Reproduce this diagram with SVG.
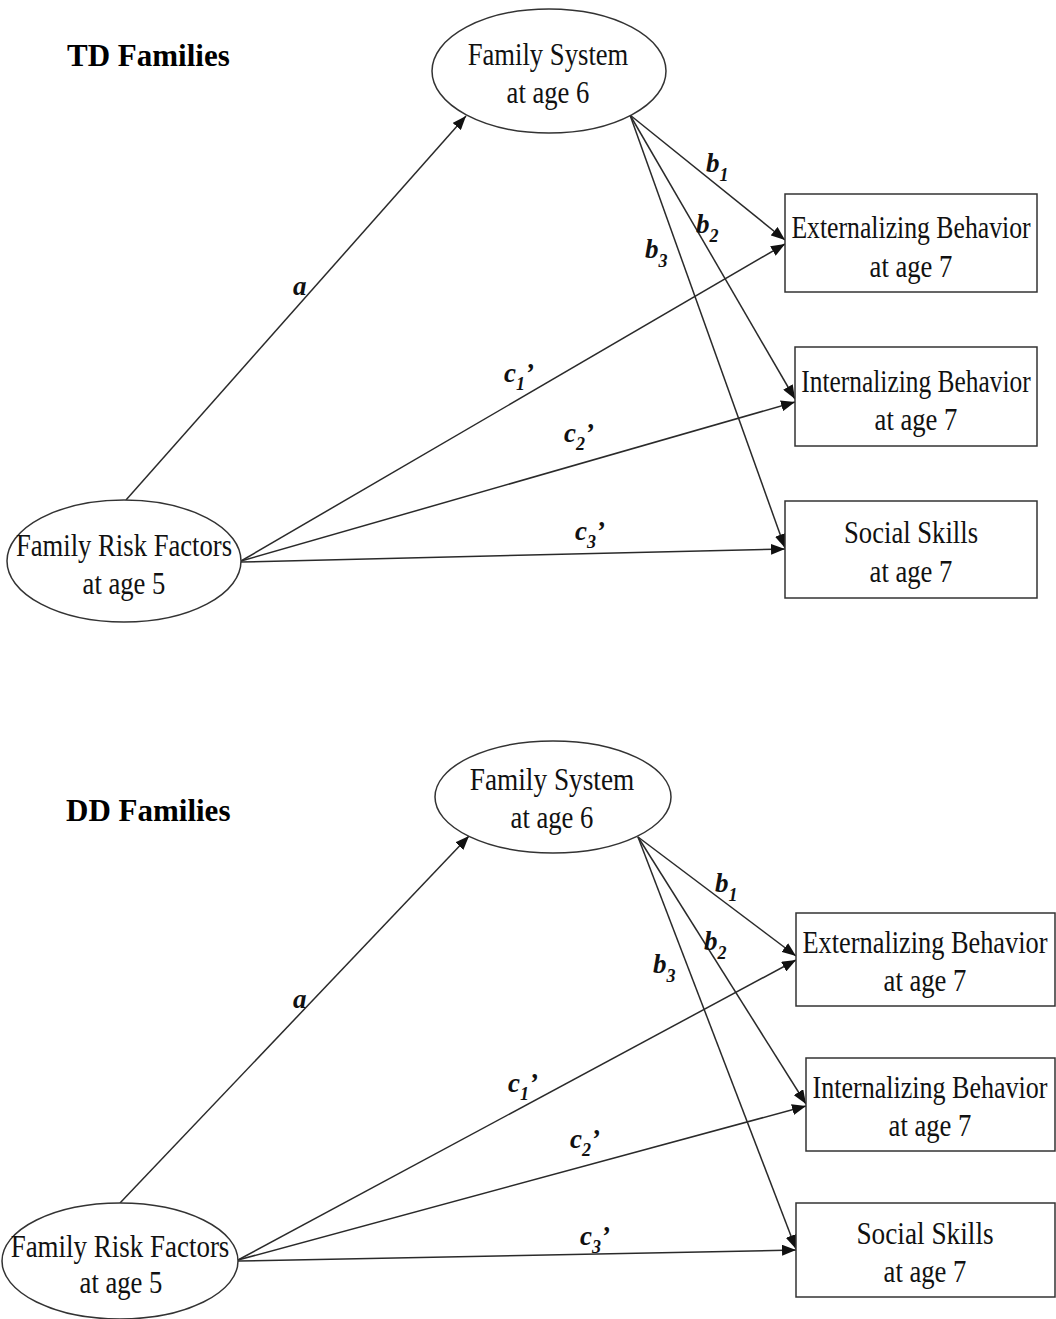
<svg xmlns="http://www.w3.org/2000/svg" width="1056" height="1319" viewBox="0 0 1056 1319">
<style>
  .node { fill: #ffffff; stroke: #333333; stroke-width: 1.5; }
  .nt { font-family: "Liberation Serif", "Times New Roman", serif; font-size: 31px; fill: #111111; text-anchor: middle; }
  .head { font-family: "Liberation Serif", "Times New Roman", serif; font-size: 31px; font-weight: bold; fill: #000000; }
  .lab { font-family: "Liberation Serif", "Times New Roman", serif; font-size: 27px; font-weight: bold; font-style: italic; fill: #111111; }
  .sub { font-size: 18px; }
  .edge { stroke: #2a2a2a; stroke-width: 1.5; fill: none; marker-end: url(#arr); }
</style>
<defs>
  <marker id="arr" markerUnits="userSpaceOnUse" markerWidth="15" markerHeight="11" refX="14" refY="5.5" orient="auto">
    <path d="M0,0 L14,5.5 L0,11 z" fill="#111111"/>
  </marker>
</defs>
<rect x="0" y="0" width="1056" height="1319" fill="#ffffff"/>

<!-- ===== TD Families ===== -->
<text class="head" x="67" y="66">TD Families</text>

<g id="connectors-td">
  <line class="edge" x1="126" y1="500" x2="466" y2="116"/>
  <line class="edge" x1="630" y1="115" x2="785" y2="240"/>
  <line class="edge" x1="630" y1="115" x2="795" y2="399"/>
  <line class="edge" x1="630" y1="115" x2="785" y2="548"/>
  <line class="edge" x1="241" y1="561" x2="785" y2="244"/>
  <line class="edge" x1="241" y1="561" x2="795" y2="402"/>
  <line class="edge" x1="241" y1="562" x2="785" y2="549"/>
  <text class="lab" x="293" y="295">a</text>
  <text class="lab" x="706" y="172">b<tspan class="sub" dy="9">1</tspan></text>
  <text class="lab" x="696" y="233">b<tspan class="sub" dy="9">2</tspan></text>
  <text class="lab" x="645" y="258">b<tspan class="sub" dy="9">3</tspan></text>
  <text class="lab" x="504" y="382">c<tspan class="sub" dy="8">1</tspan><tspan dy="-8">’</tspan></text>
  <text class="lab" x="564" y="442">c<tspan class="sub" dy="8">2</tspan><tspan dy="-8">’</tspan></text>
  <text class="lab" x="575" y="540">c<tspan class="sub" dy="8">3</tspan><tspan dy="-8">’</tspan></text>
</g>

<g id="td-family-system">
  <ellipse class="node" cx="549" cy="71" rx="117" ry="62"/>
  <text class="nt" transform="translate(548,65) scale(0.86,1)">Family System</text>
  <text class="nt" transform="translate(548,103) scale(0.86,1)">at age 6</text>
</g>
<g id="td-family-risk">
  <ellipse class="node" cx="124" cy="561" rx="117" ry="61"/>
  <text class="nt" transform="translate(124,556) scale(0.86,1)">Family Risk Factors</text>
  <text class="nt" transform="translate(124,594) scale(0.86,1)">at age 5</text>
</g>
<g id="td-externalizing">
  <rect class="node" x="785" y="194" width="252" height="98"/>
  <text class="nt" transform="translate(911,238) scale(0.83,1)">Externalizing Behavior</text>
  <text class="nt" transform="translate(911,277) scale(0.86,1)">at age 7</text>
</g>
<g id="td-internalizing">
  <rect class="node" x="795" y="347" width="242" height="99"/>
  <text class="nt" transform="translate(916,392) scale(0.82,1)">Internalizing Behavior</text>
  <text class="nt" transform="translate(916,430) scale(0.86,1)">at age 7</text>
</g>
<g id="td-social">
  <rect class="node" x="785" y="501" width="252" height="97"/>
  <text class="nt" transform="translate(911,543) scale(0.86,1)">Social Skills</text>
  <text class="nt" transform="translate(911,582) scale(0.86,1)">at age 7</text>
</g>

<!-- ===== DD Families ===== -->
<text class="head" x="66" y="821">DD Families</text>

<g id="connectors-dd">
  <line class="edge" x1="120" y1="1203" x2="469" y2="836"/>
  <line class="edge" x1="638" y1="837" x2="796" y2="956"/>
  <line class="edge" x1="638" y1="837" x2="806" y2="1104"/>
  <line class="edge" x1="638" y1="837" x2="796" y2="1249"/>
  <line class="edge" x1="238" y1="1260" x2="796" y2="960"/>
  <line class="edge" x1="238" y1="1260" x2="806" y2="1106"/>
  <line class="edge" x1="238" y1="1261" x2="796" y2="1250"/>
  <text class="lab" x="293" y="1008">a</text>
  <text class="lab" x="715" y="892">b<tspan class="sub" dy="9">1</tspan></text>
  <text class="lab" x="704" y="950">b<tspan class="sub" dy="9">2</tspan></text>
  <text class="lab" x="653" y="973">b<tspan class="sub" dy="9">3</tspan></text>
  <text class="lab" x="508" y="1092">c<tspan class="sub" dy="8">1</tspan><tspan dy="-8">’</tspan></text>
  <text class="lab" x="570" y="1148">c<tspan class="sub" dy="8">2</tspan><tspan dy="-8">’</tspan></text>
  <text class="lab" x="580" y="1245">c<tspan class="sub" dy="8">3</tspan><tspan dy="-8">’</tspan></text>
</g>

<g id="dd-family-system">
  <ellipse class="node" cx="553" cy="797" rx="118" ry="56"/>
  <text class="nt" transform="translate(552,790) scale(0.88,1)">Family System</text>
  <text class="nt" transform="translate(552,828) scale(0.86,1)">at age 6</text>
</g>
<g id="dd-family-risk">
  <ellipse class="node" cx="120" cy="1261" rx="118" ry="58"/>
  <text class="nt" transform="translate(120,1257) scale(0.87,1)">Family Risk Factors</text>
  <text class="nt" transform="translate(121,1293) scale(0.86,1)">at age 5</text>
</g>
<g id="dd-externalizing">
  <rect class="node" x="796" y="913" width="259" height="93"/>
  <text class="nt" transform="translate(925,953) scale(0.85,1)">Externalizing Behavior</text>
  <text class="nt" transform="translate(925,991) scale(0.86,1)">at age 7</text>
</g>
<g id="dd-internalizing">
  <rect class="node" x="806" y="1058" width="249" height="93"/>
  <text class="nt" transform="translate(930,1098) scale(0.84,1)">Internalizing Behavior</text>
  <text class="nt" transform="translate(930,1136) scale(0.86,1)">at age 7</text>
</g>
<g id="dd-social">
  <rect class="node" x="796" y="1203" width="259" height="94"/>
  <text class="nt" transform="translate(925,1244) scale(0.88,1)">Social Skills</text>
  <text class="nt" transform="translate(925,1282) scale(0.86,1)">at age 7</text>
</g>
</svg>
